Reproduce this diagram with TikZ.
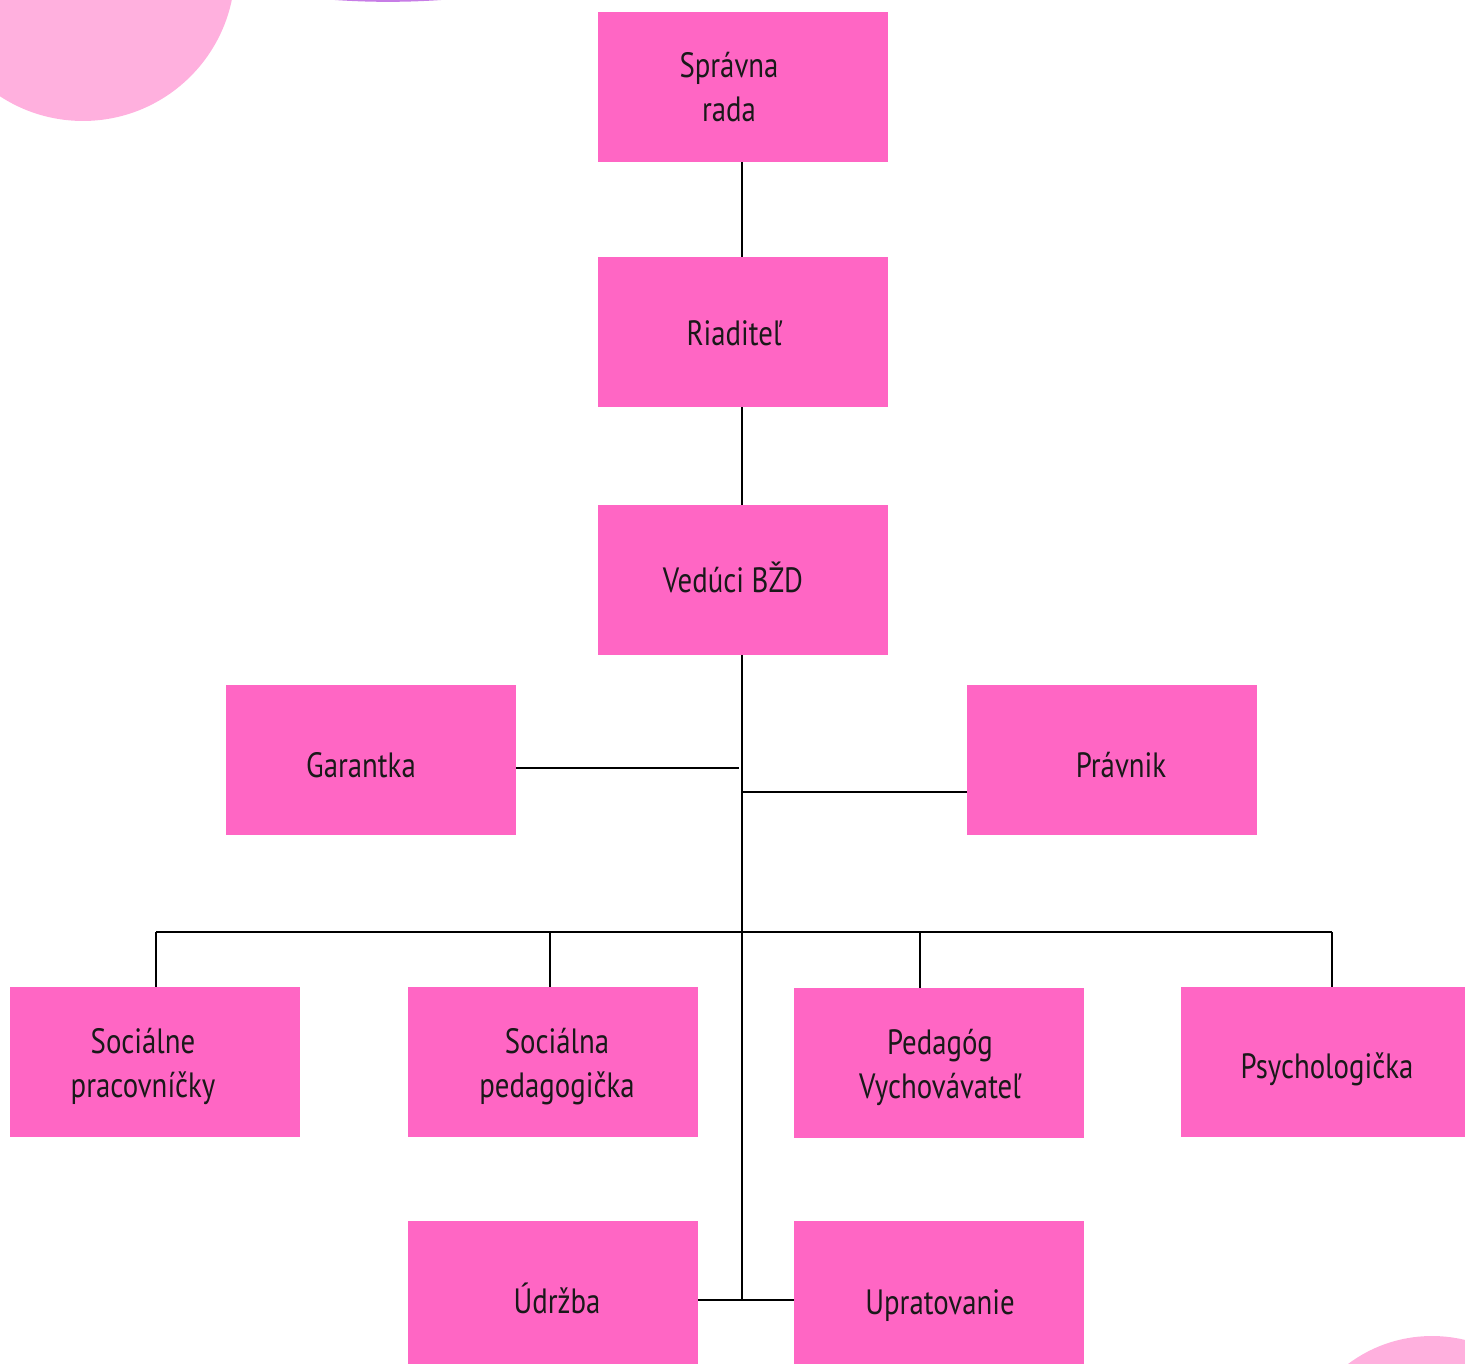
\documentclass[tikz,border=0pt]{standalone}
\usepackage{fontspec}
\setmainfont{PT Sans}[FakeStretch=0.82]
\begin{document}
\begin{tikzpicture}[x=0.02cm,y=-0.02cm,
  box/.style={draw=none,fill=boxpink,minimum width=5.8cm,minimum height=3cm,inner sep=0pt},
  lbl/.style={font=\fontsize{20}{25}\selectfont,align=center,text=black!90,inner sep=0pt},
  conn/.style={line width=1.1pt,black}]
\definecolor{boxpink}{HTML}{FF66C4}
\definecolor{bubble}{HTML}{FFB0DE}
\definecolor{lilac}{HTML}{C77DE6}
\useasboundingbox (0,0) rectangle (1465,1364);
\begin{scope}
\clip (0,0) rectangle (1465,1364);
\fill[bubble] (83,-31) circle[radius=3.04cm];
\fill[bubble] (1432,1476) circle[radius=2.8cm];
\fill[lilac] (388,-755) circle[radius=15.14cm];
\end{scope}
% boxes
\node[box] (sr) at (743,87) {};
\node[box] (ri) at (743,332) {};
\node[box] (ve) at (743,580) {};
\node[box] (ga) at (371,760) {};
\node[box] (pr) at (1112,760) {};
\node[box] (sp) at (155,1062) {};
\node[box] (sped) at (553,1062) {};
\node[box] (pv) at (939,1063) {};
\node[box,minimum width=5.68cm] (ps) at (1323,1062) {};
\node[box] (ud) at (553,1296) {};
\node[box] (up) at (939,1296) {};
% labels
\node[lbl] (tsr) at (729,87) {Správna\\rada};
\node[lbl] (tri) at (734,333) {Riaditeľ};
\node[lbl] (tve) at (733,577) {Vedúci BŽD};
\node[lbl] (tga) at (361,765) {Garantka};
\node[lbl] (tpr) at (1121,765) {Právnik};
\node[lbl] (tsp) at (143,1066) {Sociálne\\pracovníčky};
\node[lbl] (tsped) at (557,1067) {Sociálna\\pedagogička};
\node[lbl] (tpv) at (940,1067) {Pedagóg\\Vychovávateľ};
\node[lbl] (tps) at (1327,1069) {Psychologička};
\node[lbl] (tud) at (557,1298) {Údržba};
\node[lbl] (tup) at (940,1306) {Upratovanie};
% connector points
\coordinate (trunkend) at (742,1300);
\coordinate (gaend) at (739,768);
\coordinate (prstart) at (743,792);
\coordinate (busL) at (156,932);
\coordinate (busR) at (1332,932);
\coordinate (b2) at (550,932);
\coordinate (b3) at (920,932);
% connectors
\draw[conn] (sr.south -| 742,0) -- (ri.north -| 742,0);
\draw[conn] (ri.south -| 742,0) -- (ve.north -| 742,0);
\draw[conn] (ve.south -| 742,0) -- (trunkend);
\draw[conn] (ga.east |- gaend) -- (gaend);
\draw[conn] (prstart) -- (pr.west |- prstart);
\draw[conn] (busL) -- (busR);
\draw[conn] (busL) -- (busL |- sp.north);
\draw[conn] (b2) -- (b2 |- sped.north);
\draw[conn] (b3) -- (b3 |- pv.north);
\draw[conn] (busR) -- (busR |- ps.north);
\draw[conn] (ud.east |- trunkend) -- (up.west |- trunkend);
\end{tikzpicture}
\end{document}
